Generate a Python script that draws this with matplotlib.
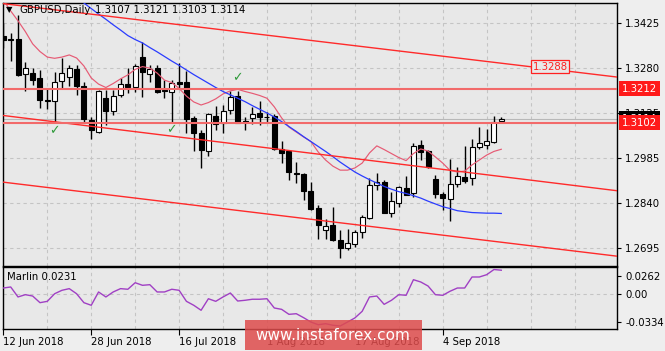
import numpy as np
import matplotlib.pyplot as plt
from matplotlib.patches import Rectangle
import matplotlib.transforms as mtransforms

# daily candles, 12 Jun 2018 .. 14 Sep 2018 (bar index = trading day)
opens = [1.3384, 1.3374, 1.3374, 1.3260, 1.3262, 1.3246, 1.3173, 1.3172, 1.3237, 1.3251,
         1.3276, 1.3221, 1.3110, 1.3072, 1.3181, 1.3140, 1.3192, 1.3227, 1.3219, 1.3315,
         1.3259, 1.3279, 1.3208, 1.3202, 1.3234, 1.3234, 1.3117, 1.3068, 1.3010, 1.3123,
         1.3099, 1.3143, 1.3188, 1.3105, 1.3116, 1.3132, 1.3121, 1.3123, 1.3015, 1.3009,
         1.2939, 1.2934, 1.2879, 1.2823, 1.2752, 1.2768, 1.2719, 1.2695, 1.2706, 1.2746,
         1.2790, 1.2898, 1.2909, 1.2809, 1.2841, 1.2888, 1.2871, 1.3029, 1.3010, 1.2917,
         1.2868, 1.2852, 1.2902, 1.2926, 1.2920, 1.3023, 1.3029, 1.3040, 1.3107]
highs = [1.3426, 1.3394, 1.3452, 1.3300, 1.3281, 1.3273, 1.3214, 1.3268, 1.3311, 1.3289,
         1.3289, 1.3235, 1.3121, 1.3208, 1.3208, 1.3208, 1.3246, 1.3279, 1.3292, 1.3363,
         1.3289, 1.3289, 1.3240, 1.3240, 1.3296, 1.3270, 1.3123, 1.3077, 1.3134, 1.3156,
         1.3159, 1.3206, 1.3206, 1.3121, 1.3152, 1.3173, 1.3137, 1.3130, 1.3043, 1.3012,
         1.2974, 1.2938, 1.2909, 1.2833, 1.2787, 1.2826, 1.2752, 1.2754, 1.2752, 1.2801,
         1.2923, 1.2938, 1.2915, 1.2877, 1.2895, 1.2927, 1.3034, 1.3045, 1.3012, 1.2931,
         1.2877, 1.2982, 1.2958, 1.3026, 1.3047, 1.3088, 1.3080, 1.3123, 1.3121]
lows = [1.3345, 1.3302, 1.3253, 1.3205, 1.3224, 1.3149, 1.3145, 1.3103, 1.3213, 1.3222,
        1.3192, 1.3103, 1.3048, 1.3067, 1.3094, 1.3126, 1.3186, 1.3197, 1.3202, 1.3186,
        1.3235, 1.3198, 1.3181, 1.3104, 1.3214, 1.3068, 1.3009, 1.2953, 1.2993, 1.3077,
        1.3069, 1.3130, 1.3099, 1.3077, 1.3097, 1.3094, 1.3101, 1.3012, 1.2969, 1.2915,
        1.2904, 1.2850, 1.2817, 1.2723, 1.2723, 1.2716, 1.2660, 1.2687, 1.2698, 1.2725,
        1.2788, 1.2882, 1.2806, 1.2794, 1.2828, 1.2866, 1.2859, 1.2980, 1.2953, 1.2855,
        1.2817, 1.2782, 1.2891, 1.2904, 1.2898, 1.3015, 1.3015, 1.3035, 1.3103]
closes = [1.3371, 1.3371, 1.3257, 1.3280, 1.3240, 1.3175, 1.3172, 1.3235, 1.3262, 1.3279,
          1.3222, 1.3113, 1.3078, 1.3205, 1.3140, 1.3189, 1.3226, 1.3219, 1.3287, 1.3267,
          1.3276, 1.3200, 1.3205, 1.3232, 1.3227, 1.3113, 1.3068, 1.3011, 1.3129, 1.3097,
          1.3140, 1.3184, 1.3101, 1.3104, 1.3129, 1.3121, 1.3119, 1.3015, 1.3002, 1.2942,
          1.2934, 1.2879, 1.2819, 1.2768, 1.2765, 1.2719, 1.2692, 1.2711, 1.2746, 1.2795,
          1.2899, 1.2909, 1.2807, 1.2846, 1.2891, 1.2867, 1.3026, 1.3005, 1.2956, 1.2869,
          1.2855, 1.2902, 1.2928, 1.2912, 1.3023, 1.3036, 1.3043, 1.3105, 1.3114]

# moving averages
ma_fast = [1.3501, 1.3465, 1.3433, 1.3398, 1.3358, 1.3333, 1.3315, 1.3311, 1.3315, 1.3322,
           1.3312, 1.3286, 1.3247, 1.3227, 1.3216, 1.3229, 1.3244, 1.3257, 1.3275, 1.3284,
           1.3279, 1.3263, 1.3240, 1.3232, 1.3213, 1.3188, 1.3169, 1.3159, 1.3167, 1.3179,
           1.3195, 1.3205, 1.3210, 1.3203, 1.3197, 1.3190, 1.3181, 1.3153, 1.3117, 1.3087,
           1.3071, 1.3055, 1.3040, 1.3006, 1.2980, 1.2960, 1.2947, 1.2947, 1.2954, 1.2970,
           1.3003, 1.3026, 1.3014, 1.3001, 1.2988, 1.2978, 1.3001, 1.3016, 1.3009, 1.2990,
           1.2970, 1.2946, 1.2941, 1.2944, 1.2964, 1.2980, 1.2996, 1.3008, 1.3015]
ma_slow = [np.nan] * 10 + [
           1.3508, 1.3491, 1.3473, 1.3455, 1.3438, 1.3420, 1.3403, 1.3385, 1.3372, 1.3361,
           1.3346, 1.3332, 1.3317, 1.3302, 1.3288, 1.3273, 1.3258, 1.3244, 1.3230, 1.3216,
           1.3203, 1.3192, 1.3181, 1.3170, 1.3157, 1.3145, 1.3133, 1.3120, 1.3105, 1.3089,
           1.3073, 1.3056, 1.3040, 1.3024, 1.3008, 1.2991, 1.2973, 1.2957, 1.2941, 1.2928,
           1.2916, 1.2905, 1.2894, 1.2885, 1.2877, 1.2871, 1.2864, 1.2856, 1.2846, 1.2837,
           1.2828, 1.2822, 1.2815, 1.2812, 1.2809, 1.2808, 1.2807, 1.2807, 1.2806]

marlin = [0.0060, 0.0070, -0.0026, -0.0004, -0.0017, -0.0081, -0.0068, 0.0005, 0.0038, 0.0054,
          0.0005, -0.0081, -0.0106, 0.0022, -0.0026, 0.0022, 0.0054, 0.0048, 0.0111, 0.0086,
          0.0092, 0.0022, 0.0022, 0.0048, 0.0038, -0.0068, -0.0106, -0.0154, -0.0043, -0.0068,
          -0.0026, 0.0012, -0.0065, -0.0058, -0.0048, -0.0048, -0.0043, -0.0132, -0.0145, -0.0193,
          -0.0187, -0.0225, -0.0267, -0.0293, -0.0283, -0.0298, -0.0305, -0.0267, -0.0228, -0.0164,
          -0.0026, -0.0017, -0.0097, -0.0058, -0.0004, -0.0010, 0.0140, 0.0118, 0.0079, -0.0004,
          -0.0010, 0.0029, 0.0060, 0.0060, 0.0166, 0.0166, 0.0188, 0.0238, 0.0231]

# channel lines: (bar, price) anchors
channel_lines = [[(-0.4, 1.3490), (83.8, 1.3250)],
                 [(-0.4, 1.3126), (83.8, 1.2880)],
                 [(-0.4, 1.2909), (83.8, 1.2667)]]
levels = [1.3212, 1.3102]
bid = 1.3114
checks = [(7, 1.3076), (23, 1.3078), (32, 1.3248)]

price_ticks = [1.3425, 1.3279, 1.3133, 1.2987, 1.2841, 1.2695]
price_labels = ['1.3425', '1.3280', '1.3125', '1.2985', '1.2840', '1.2695']
date_pos = [0, 12, 24, 36, 48, 60]
date_labels = ['12 Jun 2018', '28 Jun 2018', '16 Jul 2018', '1 Aug 2018', '17 Aug 2018', '4 Sep 2018']

W, H = 665, 351
BG = '#e8e8e8'
FS = 7.3
fig = plt.figure(figsize=(W / 100, H / 100), dpi=100, facecolor='#eeeeee')


def px_axes(x0, y0, x1, y1, **kw):
    return fig.add_axes([x0 / W, 1 - y1 / H, (x1 - x0) / W, (y1 - y0) / H], **kw)


ax = px_axes(3, 3, 617, 265.7)
ax2 = px_axes(3, 267, 617, 329, sharex=ax)
for a in (ax, ax2):
    a.set_facecolor(BG)
    for s in a.spines.values():
        s.set_color('black')
        s.set_linewidth(1)
    for g in range(6, 84, 6):
        a.axvline(g, color='#c4c4c4', lw=0.8, ls=(0, (3, 3)), zorder=0)

ax.set_xlim(-0.05, 83.8)
ax.set_ylim(1.2636, 1.3491)
for p in price_ticks:
    ax.axhline(p, color='#c4c4c4', lw=0.8, ls=(0, (3, 3)), zorder=0)

# channel + levels
for (x0, y0), (x1, y1) in channel_lines:
    ax.plot([x0, x1], [y0, y1], color='#ff2a2a', lw=1, zorder=5)
for lv in levels:
    ax.axhline(lv, color='#f26a6a', lw=1.5, zorder=5)
ax.axhline(bid, color='#b8b8b8', lw=0.8, zorder=1)

# candles
idx = np.arange(len(opens))
o, h, l, c = map(np.array, (opens, highs, lows, closes))
up = c >= o
lo = np.minimum(o, c)
bh = np.maximum(np.abs(c - o), 0.00025)
ax.vlines(idx, l, h, color='black', lw=1, zorder=2)
ax.bar(idx[up], bh[up], bottom=lo[up], width=0.68, color='white', edgecolor='black', lw=0.8, zorder=3)
ax.bar(idx[~up], bh[~up], bottom=lo[~up], width=0.68, color='black', edgecolor='black', lw=0.8, zorder=3)

ax.plot(idx, ma_fast, color='#e65a74', lw=0.85, zorder=4)
ax.plot(idx, ma_slow, color='#2a3cff', lw=0.9, zorder=4)

for b, p in checks:
    ax.text(b, p, '\u2713', color='#2f9a3a', fontsize=9, fontweight='bold', ha='center', va='center', zorder=6)

ax.text(74.7, 1.3284, '1.3288', color='#ff2020', fontsize=FS, ha='center', va='center', zorder=7,
        bbox=dict(boxstyle='square,pad=0.15', fc=BG, ec='#ff2020', lw=0.9))

ax.yaxis.tick_right()
ax.set_yticks(price_ticks)
ax.set_yticklabels(price_labels)
ax.tick_params(axis='y', length=3, width=0.8, pad=3, labelsize=FS)
ax.tick_params(axis='x', length=0, labelbottom=False)

tr = mtransforms.blended_transform_factory(ax.transAxes, ax.transData)
ax.text(1 + 5 / 614, bid, '1.3114', transform=tr, color='white', fontsize=FS, ha='left', va='center',
        clip_on=False, zorder=10, bbox=dict(boxstyle='square,pad=0.25', fc='black', ec='none'))
for lv in levels:
    ax.text(1 + 5 / 614, lv, '%.4f' % lv, transform=tr, color='white', fontsize=FS, ha='left',
            va='center', clip_on=False, zorder=11,
            bbox=dict(boxstyle='square,pad=0.25', fc='#ff1a1a', ec='none'))

# indicator panel
ax2.plot(idx, marlin, color='#a040c4', lw=1, zorder=3)
ax2.set_ylim(-0.0334, 0.0262)
ax2.axhline(0, color='#c4c4c4', lw=0.8, ls=(0, (3, 3)), zorder=0)
ax2.yaxis.tick_right()
ax2.set_yticks([0.0175, 0.0, -0.0267])
ax2.set_yticklabels(['0.0262', '0.00', '-0.0334'])
ax2.tick_params(axis='y', length=3, width=0.8, pad=3, labelsize=FS)
ax2.set_xticks(date_pos)
ax2.set_xticklabels(date_labels, ha='left')
ax2.tick_params(axis='x', length=4, width=0.8, pad=2, labelsize=FS)

fig.text(7 / W, 1 - 277 / H, 'Marlin 0.0231', fontsize=FS, va='center', ha='left')
fig.text(6 / W, 1 - 10 / H, '\u25bc', fontsize=6, va='center', ha='left')
fig.text(19 / W, 1 - 10 / H, 'GBPUSD,Daily', fontsize=FS, va='center', ha='left')
fig.text(95 / W, 1 - 10 / H, '1.3107 1.3121 1.3103 1.3114', fontsize=FS, va='center', ha='left')

# watermark
fig.add_artist(Rectangle((245 / W, 1 - 350 / H), 177 / W, 30 / H, transform=fig.transFigure,
                         fc='#de4c4c', ec='none', alpha=0.85, zorder=5))
fig.text(333 / W, 1 - 336 / H, 'www.instaforex.com', color='white', fontsize=11, ha='center',
         va='center', zorder=6)

fig.savefig('out.png', dpi=100, facecolor=fig.get_facecolor())
